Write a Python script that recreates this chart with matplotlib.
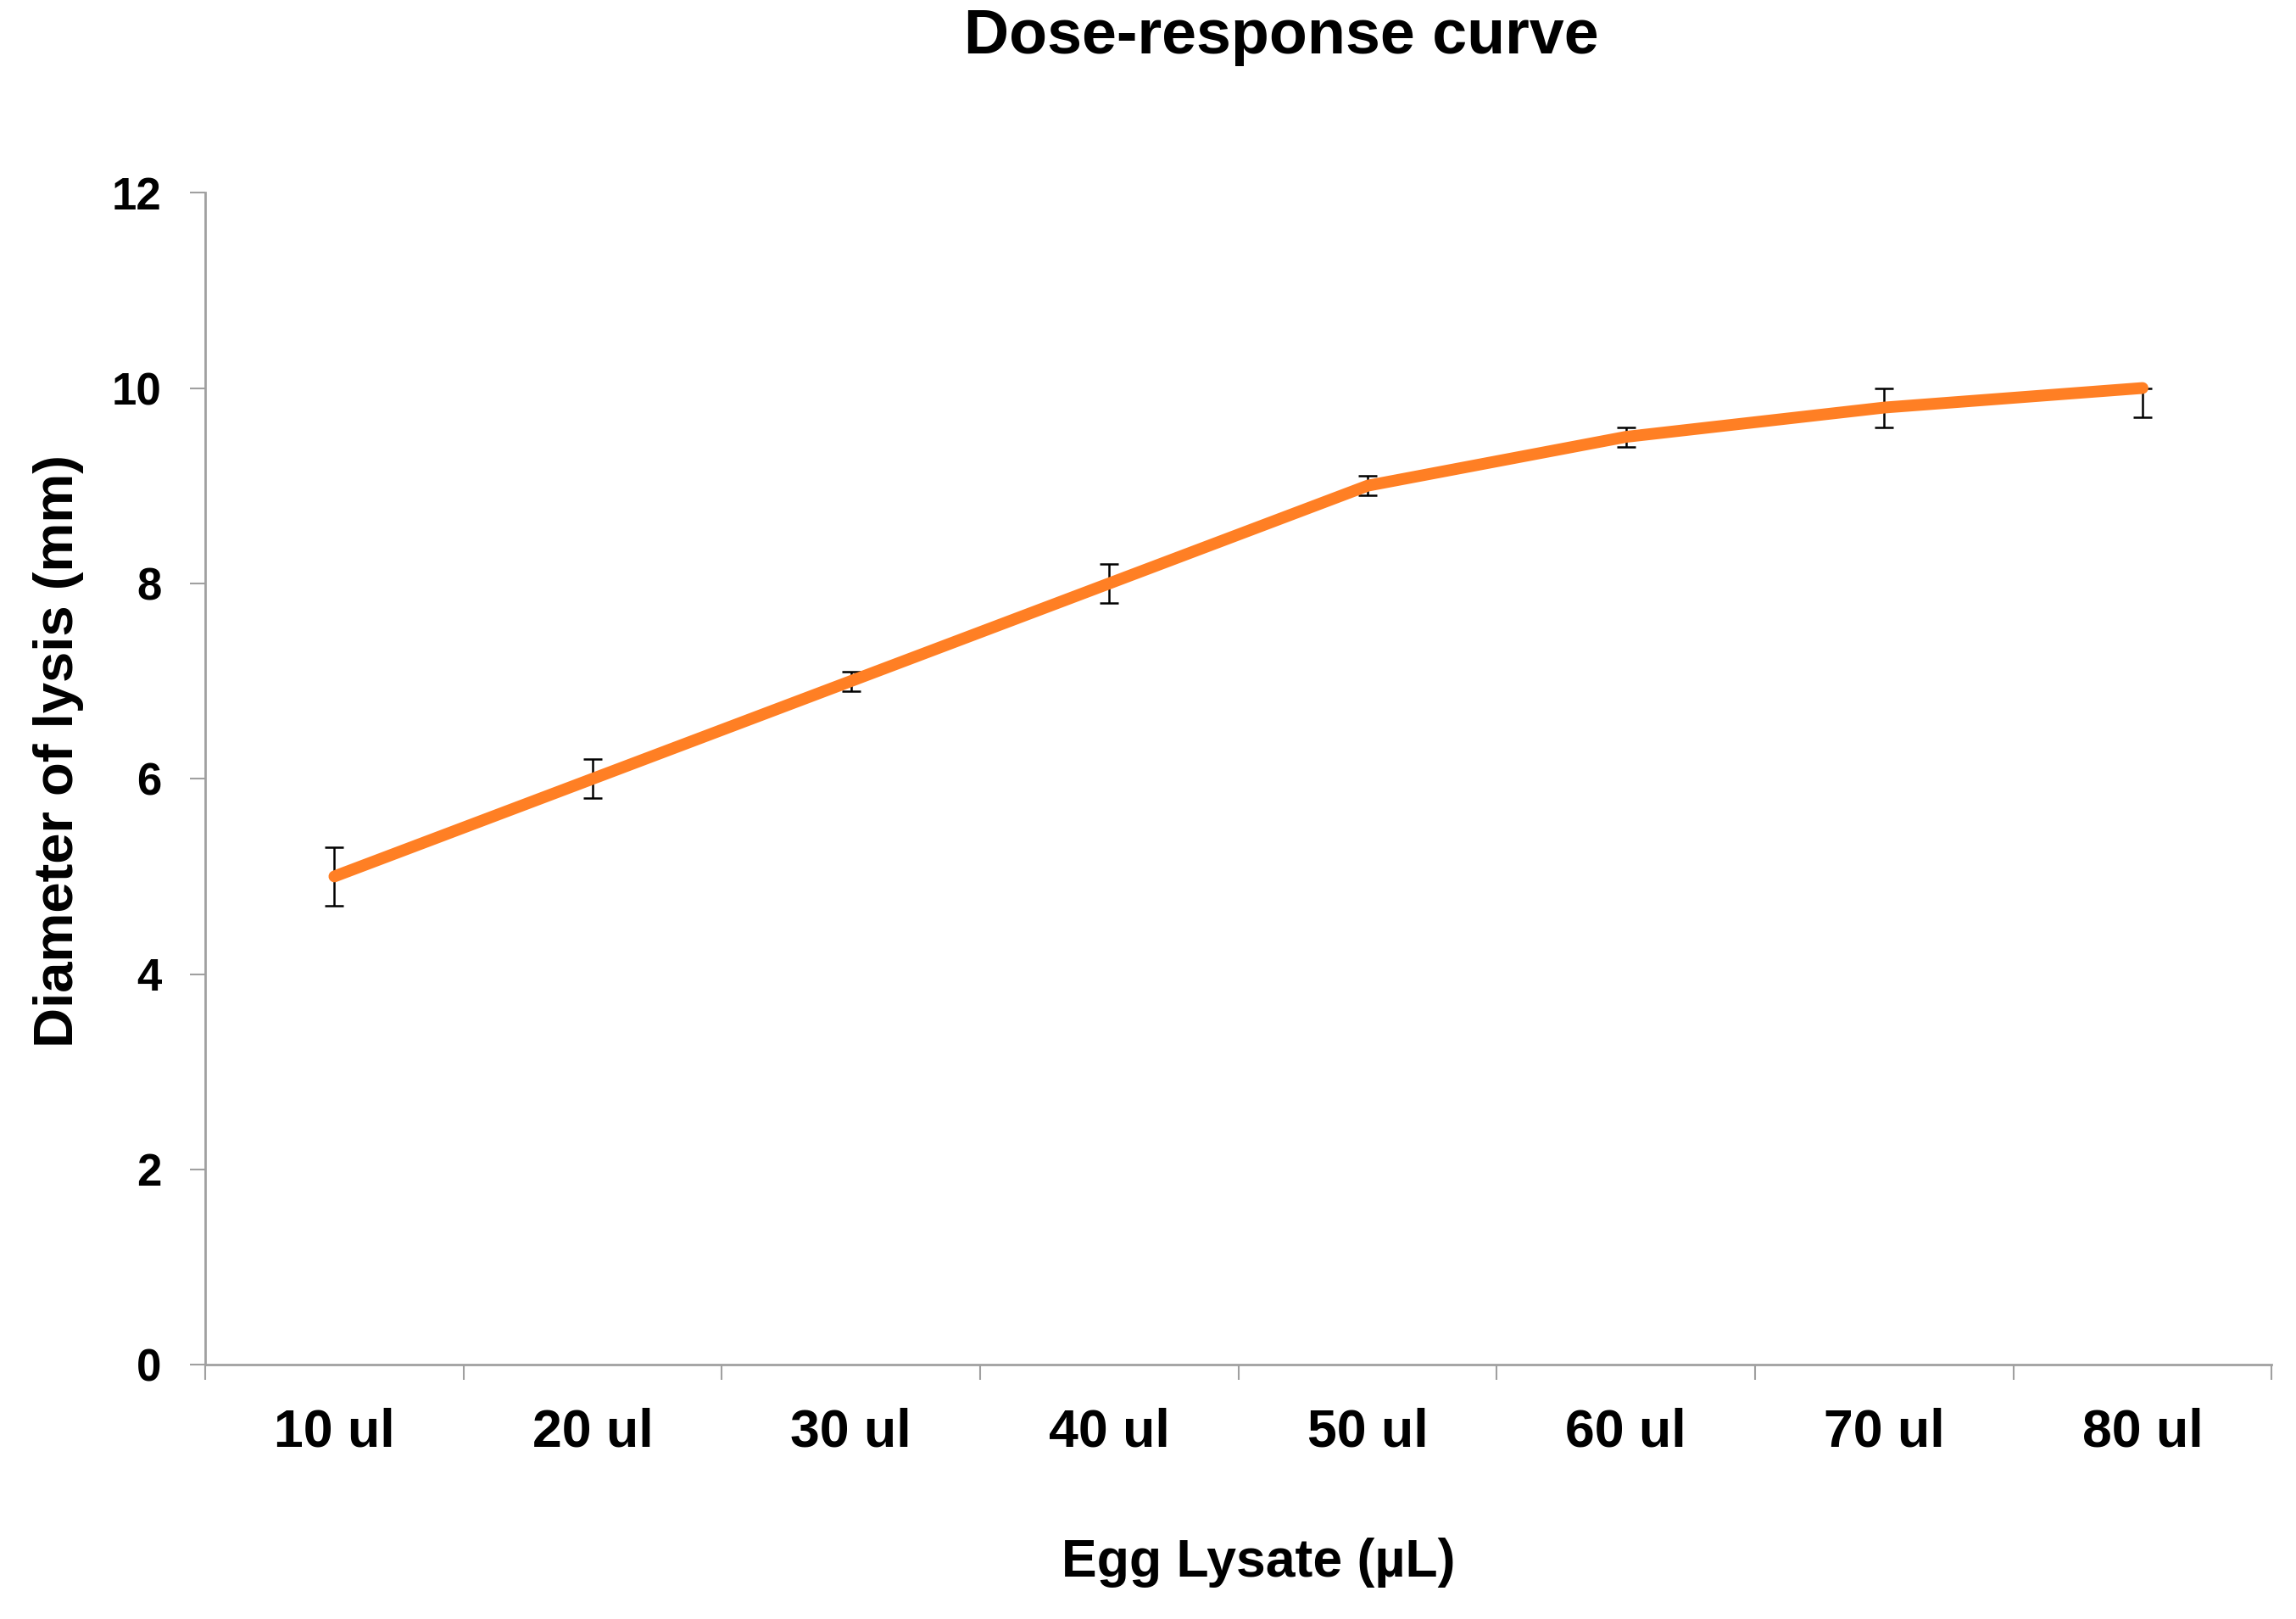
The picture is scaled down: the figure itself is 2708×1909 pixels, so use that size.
import numpy as np
import matplotlib
matplotlib.use("Agg")
import matplotlib.pyplot as plt

# data
doses = ["10 ul", "20 ul", "30 ul", "40 ul", "50 ul", "60 ul", "70 ul", "80 ul"]
diameter = [5.0, 6.0, 7.0, 8.0, 9.0, 9.5, 9.8, 10.0]
err_low = [0.3, 0.2, 0.1, 0.2, 0.1, 0.1, 0.2, 0.3]
err_high = [0.3, 0.2, 0.1, 0.2, 0.1, 0.1, 0.2, 0.0]
yticks = [0, 2, 4, 6, 8, 10, 12]

plt.rcParams['font.family'] = ['Liberation Sans', 'DejaVu Sans']
plt.rcParams['font.weight'] = 'bold'

fig = plt.figure(figsize=(27.08, 19.09), dpi=100)
ax = fig.add_axes([0.0894, 0.157, 0.9, 0.724])

x = np.arange(len(doses))
ax.errorbar(x, diameter, yerr=[err_low, err_high], fmt='none', ecolor='black',
            elinewidth=1.8, capsize=8, capthick=1.8, zorder=2)
ax.plot(x, diameter, color='#ff7f24', linewidth=10, solid_capstyle='round', zorder=3)

ax.set_xlim(-0.5, len(doses) - 0.5)
ax.set_ylim(0, 12)
ax.set_yticks(yticks)
ax.set_yticklabels([str(v) for v in yticks], fontsize=38, fontweight='bold')

# category ticks at boundaries, labels at centers
ax.set_xticks(np.arange(-0.5, len(doses), 1.0))
ax.set_xticklabels([])
ax.set_xticks(x, minor=True)
ax.set_xticklabels(doses, minor=True, fontsize=45, fontweight='bold')
ax.tick_params(axis='x', which='major', length=13, width=1.5, color='#a0a0a0', direction='out')
ax.tick_params(axis='x', which='minor', length=0, pad=36)
ax.tick_params(axis='y', length=13, width=1.5, color='#a0a0a0', direction='out', pad=24)

for s in ['top', 'right']:
    ax.spines[s].set_visible(False)
for s in ['left', 'bottom']:
    ax.spines[s].set_color('#a0a0a0')
    ax.spines[s].set_linewidth(2)

fig.text(0.558, 0.977, "Dose-response curve", fontsize=53, fontweight='bold',
         ha='center', va='center')
fig.text(0.548, 0.0346, "Egg Lysate (µL)", fontsize=45, fontweight='bold',
         ha='center', va='center')
fig.text(0.0255, 0.536, "Diameter of lysis (mm)", fontsize=47, fontweight='bold',
         ha='center', va='center', rotation=90)

fig.savefig("out.png", dpi=100)
